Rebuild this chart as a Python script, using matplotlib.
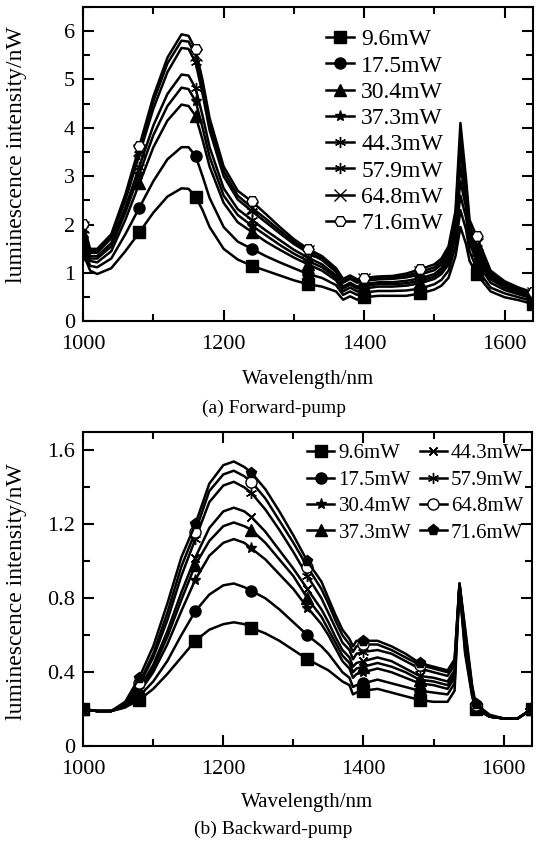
import matplotlib
matplotlib.use("Agg")
import matplotlib.pyplot as plt
from matplotlib.ticker import MultipleLocator

plt.rcParams['font.family'] = ['Liberation Serif', 'DejaVu Serif']

# ---------- data: (a) forward pump ----------
wl_a = [1000, 1010, 1020, 1040, 1060, 1080, 1100, 1120, 1140, 1150, 1160, 1170, 1180,
        1200, 1220, 1240, 1260, 1280, 1300, 1320, 1340, 1360, 1370, 1380, 1390, 1400,
        1420, 1440, 1460, 1480, 1500, 1510, 1520, 1530, 1537, 1545, 1550, 1560, 1580,
        1600, 1620, 1640]
labels_a = ["9.6mW", "17.5mW", "30.4mW", "37.3mW", "44.3mW", "57.9mW", "64.8mW", "71.6mW"]

fa_96 = [1.40, 1.05, 0.98, 1.10, 1.45, 1.84, 2.25, 2.58, 2.75, 2.74, 2.58, 2.30, 1.95,
         1.50, 1.28, 1.15, 1.05, 0.95, 0.85, 0.77, 0.72, 0.62, 0.45, 0.52, 0.45, 0.50,
         0.53, 0.53, 0.53, 0.58, 0.66, 0.74, 0.90, 1.35, 1.95, 1.60, 1.25, 0.98, 0.62,
         0.50, 0.44, 0.36]
fa_175 = [1.50, 1.15, 1.12, 1.30, 1.80, 2.35, 2.90, 3.35, 3.60, 3.60, 3.42, 3.00, 2.55,
          1.95, 1.65, 1.50, 1.35, 1.22, 1.10, 0.98, 0.90, 0.75, 0.55, 0.62, 0.55, 0.60,
          0.63, 0.63, 0.64, 0.68, 0.77, 0.86, 1.05, 1.55, 2.30, 1.90, 1.45, 1.10, 0.70,
          0.58, 0.50, 0.42]
fa_304 = [1.60, 1.25, 1.22, 1.45, 2.10, 2.85, 3.60, 4.15, 4.48, 4.45, 4.25, 3.75, 3.20,
          2.45, 2.05, 1.85, 1.65, 1.48, 1.32, 1.18, 1.05, 0.85, 0.62, 0.70, 0.62, 0.68,
          0.72, 0.72, 0.74, 0.79, 0.88, 0.98, 1.18, 1.75, 2.60, 2.15, 1.62, 1.25, 0.80,
          0.65, 0.56, 0.47]
fa_373 = [1.70, 1.30, 1.30, 1.55, 2.25, 3.05, 3.85, 4.45, 4.83, 4.80, 4.55, 4.00, 3.40,
          2.60, 2.20, 1.98, 1.78, 1.58, 1.40, 1.25, 1.12, 0.90, 0.68, 0.76, 0.68, 0.73,
          0.77, 0.77, 0.79, 0.84, 0.93, 1.04, 1.26, 1.90, 2.90, 2.35, 1.75, 1.35, 0.87,
          0.70, 0.60, 0.50]
fa_443 = [1.80, 1.35, 1.35, 1.62, 2.35, 3.20, 4.05, 4.70, 5.10, 5.08, 4.82, 4.25, 3.60,
          2.75, 2.32, 2.10, 1.88, 1.68, 1.48, 1.32, 1.18, 0.95, 0.72, 0.80, 0.72, 0.77,
          0.81, 0.81, 0.84, 0.89, 0.98, 1.10, 1.33, 2.00, 3.20, 2.50, 1.85, 1.42, 0.92,
          0.74, 0.63, 0.53]
fa_579 = [1.90, 1.42, 1.42, 1.72, 2.50, 3.45, 4.40, 5.15, 5.65, 5.63, 5.35, 4.70, 3.95,
          3.00, 2.52, 2.28, 2.05, 1.82, 1.60, 1.42, 1.27, 1.02, 0.80, 0.88, 0.80, 0.84,
          0.87, 0.88, 0.91, 0.97, 1.06, 1.18, 1.42, 2.10, 3.50, 2.70, 1.95, 1.52, 0.97,
          0.78, 0.66, 0.56]
fa_648 = [1.95, 1.45, 1.45, 1.76, 2.56, 3.55, 4.55, 5.33, 5.80, 5.78, 5.50, 4.86, 4.08,
          3.10, 2.60, 2.35, 2.12, 1.88, 1.65, 1.46, 1.30, 1.05, 0.83, 0.90, 0.83, 0.87,
          0.90, 0.91, 0.95, 1.02, 1.12, 1.24, 1.48, 2.18, 3.80, 2.80, 2.00, 1.60, 1.00,
          0.80, 0.68, 0.58]
fa_716 = [2.02, 1.50, 1.50, 1.80, 2.62, 3.62, 4.65, 5.45, 5.93, 5.90, 5.62, 4.98, 4.20,
          3.20, 2.70, 2.48, 2.22, 1.95, 1.70, 1.50, 1.35, 1.10, 0.88, 0.95, 0.87, 0.90,
          0.93, 0.94, 0.99, 1.08, 1.18, 1.30, 1.55, 2.28, 4.10, 2.95, 2.10, 1.76, 1.05,
          0.83, 0.70, 0.60]

# ---------- data: (b) backward pump ----------
wl_b = [1000, 1020, 1040, 1060, 1080, 1100, 1120, 1140, 1160, 1180, 1200, 1215, 1230,
        1240, 1260, 1280, 1300, 1320, 1340, 1350, 1360, 1370, 1380, 1385, 1390, 1400,
        1420, 1440, 1460, 1480, 1500, 1520, 1530, 1537, 1545, 1555, 1560, 1580, 1600,
        1620, 1640]
labels_b = ["9.6mW", "17.5mW", "30.4mW", "37.3mW", "44.3mW", "57.9mW", "64.8mW", "71.6mW"]

fb_96 = [0.20, 0.19, 0.19, 0.21, 0.25, 0.31, 0.39, 0.48, 0.57, 0.63, 0.66, 0.67, 0.66,
         0.64, 0.61, 0.57, 0.52, 0.47, 0.43, 0.41, 0.38, 0.35, 0.33, 0.28, 0.29, 0.30,
         0.31, 0.29, 0.27, 0.25, 0.24, 0.24, 0.30, 0.86, 0.50, 0.27, 0.20, 0.16, 0.15,
         0.15, 0.20]
fb_175 = [0.20, 0.19, 0.19, 0.21, 0.27, 0.35, 0.46, 0.60, 0.73, 0.82, 0.87, 0.88, 0.86,
          0.84, 0.80, 0.74, 0.67, 0.60, 0.54, 0.50, 0.45, 0.40, 0.37, 0.32, 0.33, 0.34,
          0.36, 0.34, 0.32, 0.30, 0.29, 0.28, 0.34, 0.86, 0.52, 0.28, 0.20, 0.16, 0.15,
          0.15, 0.20]
fb_304 = [0.20, 0.19, 0.19, 0.22, 0.29, 0.40, 0.55, 0.73, 0.90, 1.03, 1.10, 1.12, 1.10,
          1.07, 1.01, 0.93, 0.85, 0.75, 0.66, 0.60, 0.53, 0.46, 0.42, 0.37, 0.39, 0.40,
          0.42, 0.40, 0.37, 0.34, 0.33, 0.31, 0.37, 0.87, 0.55, 0.29, 0.21, 0.16, 0.15,
          0.15, 0.20]
fb_373 = [0.20, 0.19, 0.19, 0.22, 0.30, 0.42, 0.59, 0.79, 0.98, 1.11, 1.19, 1.21, 1.19,
          1.17, 1.10, 1.01, 0.92, 0.80, 0.70, 0.63, 0.56, 0.49, 0.45, 0.40, 0.42, 0.43,
          0.45, 0.43, 0.40, 0.36, 0.35, 0.33, 0.39, 0.87, 0.57, 0.29, 0.21, 0.16, 0.15,
          0.15, 0.20]
fb_443 = [0.20, 0.19, 0.19, 0.22, 0.31, 0.44, 0.62, 0.83, 1.02, 1.18, 1.27, 1.29, 1.27,
          1.24, 1.16, 1.06, 0.96, 0.85, 0.74, 0.67, 0.59, 0.52, 0.48, 0.43, 0.45, 0.46,
          0.48, 0.46, 0.42, 0.38, 0.37, 0.35, 0.41, 0.87, 0.58, 0.30, 0.21, 0.16, 0.15,
          0.15, 0.20]
fb_579 = [0.20, 0.19, 0.19, 0.23, 0.33, 0.48, 0.68, 0.92, 1.12, 1.32, 1.41, 1.43, 1.40,
          1.37, 1.28, 1.17, 1.05, 0.92, 0.80, 0.72, 0.64, 0.56, 0.52, 0.47, 0.50, 0.51,
          0.52, 0.50, 0.46, 0.42, 0.40, 0.38, 0.44, 0.88, 0.60, 0.31, 0.22, 0.16, 0.15,
          0.15, 0.20]
fb_648 = [0.20, 0.19, 0.19, 0.23, 0.34, 0.50, 0.72, 0.97, 1.16, 1.38, 1.47, 1.49, 1.46,
          1.43, 1.34, 1.22, 1.10, 0.97, 0.85, 0.77, 0.68, 0.60, 0.55, 0.51, 0.54, 0.55,
          0.55, 0.52, 0.48, 0.44, 0.42, 0.40, 0.46, 0.88, 0.62, 0.32, 0.22, 0.16, 0.15,
          0.15, 0.20]
fb_716 = [0.20, 0.19, 0.19, 0.24, 0.37, 0.54, 0.77, 1.02, 1.20, 1.42, 1.52, 1.54, 1.51,
          1.48, 1.39, 1.27, 1.14, 1.00, 0.89, 0.80, 0.71, 0.63, 0.58, 0.54, 0.57, 0.57,
          0.57, 0.54, 0.50, 0.45, 0.43, 0.41, 0.47, 0.88, 0.64, 0.33, 0.23, 0.17, 0.15,
          0.15, 0.20]

series_a = [fa_96, fa_175, fa_304, fa_373, fa_443, fa_579, fa_648, fa_716]
series_b = [fb_96, fb_175, fb_304, fb_373, fb_443, fb_579, fb_648, fb_716]

# marker styles: (marker, filled)
markers_a = [('s', True), ('o', True), ('^', True), ('*', True),
             ((6, 2, 0), True), ((6, 2, 0), True), ('x', True), ('H', False)]
markers_b = [('s', True), ('o', True), ('*', True), ('^', True),
             ((4, 2, 45), True), ((6, 2, 0), True), ('o', False), ('p', True)]


def draw_panel(ax, wl, series, labels, styles, stops, ylim, ymaj, ymin):
    idx = [wl.index(s) for s in stops]
    for ys, lab, (m, filled) in zip(series, labels, styles):
        ax.plot(wl, ys, color='black', lw=1.8, marker=m, markersize=8,
                markevery=idx, markerfacecolor='black' if filled else 'white',
                markeredgecolor='black', markeredgewidth=1.0, label=lab)
    ax.set_xlim(1000, 1640)
    ax.set_ylim(*ylim)
    ax.xaxis.set_major_locator(MultipleLocator(200))
    ax.xaxis.set_minor_locator(MultipleLocator(100))
    ax.yaxis.set_major_locator(MultipleLocator(ymaj))
    ax.yaxis.set_minor_locator(MultipleLocator(ymin))
    ax.yaxis.set_major_formatter(plt.FuncFormatter(lambda v, p: f"{v:g}"))
    ax.tick_params(which='both', direction='in', top=True, right=True, labelsize=16,
                   width=1.5)
    ax.tick_params(which='major', length=8)
    ax.tick_params(which='minor', length=5)
    ax.tick_params(axis='x', pad=10)
    ax.tick_params(axis='y', pad=6)
    for sp in ax.spines.values():
        sp.set_linewidth(1.5)
    ax.set_xlabel("Wavelength/nm", fontsize=15)
    ax.set_ylabel("luminescence intensity/nW", fontsize=17)


fig = plt.figure(figsize=(5.47, 8.46), dpi=100)
ax1 = fig.add_axes([0.152, 0.620, 0.822, 0.372])
ax2 = fig.add_axes([0.152, 0.118, 0.820, 0.3715])

stops = [1000, 1080, 1160, 1240, 1320, 1400, 1480, 1560, 1640]
draw_panel(ax1, wl_a, series_a, labels_a, markers_a, stops, (0, 6.5), 1, 0.5)
draw_panel(ax2, wl_b, series_b, labels_b, markers_b, stops, (0, 1.7), 0.4, 0.2)
ax1.xaxis.set_label_coords(0.5, -0.155)
ax2.xaxis.set_label_coords(0.5, -0.15)
ax1.yaxis.set_label_coords(-0.125, 0.53)
ax2.yaxis.set_label_coords(-0.125, 0.49)

ax1.legend(ncol=1, frameon=False, fontsize=17, handlelength=1.2, handletextpad=0.3,
           labelspacing=0.2, borderaxespad=0.0, borderpad=0.0,
           loc='upper left', bbox_to_anchor=(0.54, 0.93))
ax2.legend(ncol=2, frameon=False, fontsize=15, handlelength=1.3, handletextpad=0.2,
           labelspacing=0.33, columnspacing=0.4, borderaxespad=0.0, borderpad=0.0,
           loc='upper left', bbox_to_anchor=(0.50, 0.962))

fig.text(0.5, 1 - 408 / 846, "(a) Forward-pump", ha='center', va='center', fontsize=14)
fig.text(0.5, 1 - 829 / 846, "(b) Backward-pump", ha='center', va='center', fontsize=14)

fig.savefig("out.png", dpi=100)
